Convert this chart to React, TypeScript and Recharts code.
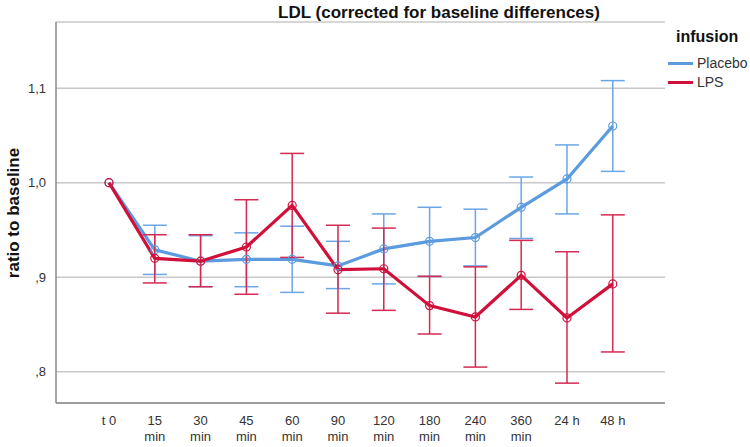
import React from 'react';
import { ComposedChart, Line, XAxis, YAxis, CartesianGrid, ErrorBar } from 'recharts';

const categories: string[][] = [
  ['t 0'], ['15', 'min'], ['30', 'min'], ['45', 'min'], ['60', 'min'], ['90', 'min'],
  ['120', 'min'], ['180', 'min'], ['240', 'min'], ['360', 'min'], ['24 h'], ['48 h'],
];

const placeboMean = [1.0, 0.929, 0.917, 0.919, 0.919, 0.912, 0.930, 0.938, 0.942, 0.974, 1.004, 1.060];
const placeboLow = [1.0, 0.903, 0.890, 0.890, 0.884, 0.888, 0.893, 0.901, 0.912, 0.941, 0.967, 1.012];
const placeboHigh = [1.0, 0.955, 0.944, 0.947, 0.954, 0.938, 0.967, 0.974, 0.972, 1.006, 1.040, 1.108];

const lpsMean = [1.0, 0.920, 0.917, 0.932, 0.976, 0.908, 0.909, 0.870, 0.858, 0.902, 0.857, 0.893];
const lpsLow = [1.0, 0.894, 0.890, 0.882, 0.921, 0.862, 0.865, 0.840, 0.805, 0.866, 0.788, 0.821];
const lpsHigh = [1.0, 0.945, 0.945, 0.982, 1.031, 0.955, 0.952, 0.901, 0.911, 0.939, 0.927, 0.966];

const yTicks = [0.8, 0.9, 1.0, 1.1];
const yTickLabels = [',8', ',9', '1,0', '1,1'];

const series = [
  { key: 'placebo', name: 'Placebo', color: '#5b9bde', errColor: '#6aa6e6' },
  { key: 'lps', name: 'LPS', color: '#d0103a', errColor: '#d42a52' },
];

const title = 'LDL (corrected for baseline differences)';
const legendTitle = 'infusion';
const yLabel = 'ratio to baseline';
const FONT = 'Liberation Sans, Arial, sans-serif';

const errOf = (m: number, lo: number, hi: number, i: number) =>
  i === 0 ? undefined : [+(m - lo).toFixed(4), +(hi - m).toFixed(4)];

const data = categories.map((c, i) => ({
  i,
  placebo: placeboMean[i],
  placeboErr: errOf(placeboMean[i], placeboLow[i], placeboHigh[i], i),
  lps: lpsMean[i],
  lpsErr: errOf(lpsMean[i], lpsLow[i], lpsHigh[i], i),
}));

const XTick = (props: any) => {
  const { x, y, payload } = props;
  const lines = categories[payload.value] || [];
  return (
    <g>
      {lines.map((t, k) => (
        <text key={k} x={x} y={y + 14 + k * 16} textAnchor="middle" fontSize={13}
          fill="#333" fontFamily={FONT}>{t}</text>
      ))}
    </g>
  );
};

const Dot = (color: string) => (props: any) => {
  const { cx, cy } = props;
  if (cx == null || cy == null) return null;
  return <circle cx={cx} cy={cy} r={4} fill="none" stroke={color} strokeWidth={1.2} />;
};

export default function App() {
  return (
    <div style={{ position: 'absolute', left: 0, top: 0, width: 750, height: 447, background: '#fff', fontFamily: FONT }}>
      <ComposedChart width={750} height={447} data={data}
        margin={{ top: 22, right: 85, bottom: 0, left: 0 }}>
        <CartesianGrid horizontal vertical={false} stroke="#c8c8c8" strokeWidth={1.5} />
        <XAxis type="number" dataKey="i" domain={[-1.157, 12.14]} ticks={categories.map((_, i) => i)}
          allowDataOverflow height={44} axisLine={{ stroke: '#8a8a8a', strokeWidth: 1.5 }} tickLine={false}
          tick={<XTick />} interval={0} />
        <YAxis type="number" domain={[0.767, 1.17]} ticks={yTicks} allowDataOverflow width={56}
          axisLine={{ stroke: '#8a8a8a', strokeWidth: 1.5 }} tickLine={false} tickMargin={4}
          tickFormatter={(v: number) => yTickLabels[yTicks.indexOf(v)] ?? String(v)}
          tick={{ fontSize: 13, fill: '#333', fontFamily: FONT }}
          label={{
            content: () => (
              <text x={13} y={213} transform="rotate(-90 13 213)" textAnchor="middle"
                dominantBaseline="central" fontSize={17} fontWeight="bold" fill="#111"
                fontFamily={FONT}>{yLabel}</text>
            ),
          }} />
        {series.map((s) => (
          <Line key={s.key} type="linear" dataKey={s.key} name={s.name} stroke={s.color} strokeWidth={3.2}
            dot={Dot(s.color)} activeDot={false} isAnimationActive={false}>
            <ErrorBar dataKey={s.key + 'Err'} width={12} stroke={s.errColor} strokeWidth={1.5} direction="y" />
          </Line>
        ))}
      </ComposedChart>
      <div style={{ position: 'absolute', left: 239, width: 400, top: 3, textAlign: 'center', fontSize: 17, fontWeight: 'bold', color: '#111', whiteSpace: 'nowrap' }}>
        {title}
      </div>
      <div style={{ position: 'absolute', left: 676, top: 28, fontSize: 16, fontWeight: 'bold', color: '#111' }}>
        {legendTitle}
      </div>
      {series.map((s, k) => (
        <div key={s.key} style={{ position: 'absolute', left: 668, top: 54 + k * 19, height: 18, display: 'flex', alignItems: 'center', fontSize: 14, color: '#333' }}>
          <span style={{ display: 'inline-block', width: 25, height: 3, background: s.color, marginRight: 4 }} />
          <span>{s.name}</span>
        </div>
      ))}
    </div>
  );
}
